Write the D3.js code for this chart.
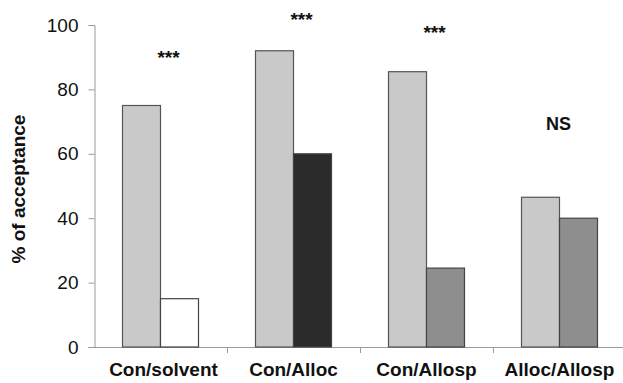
<!DOCTYPE html>
<html><head><meta charset="utf-8">
<script src="https://cdn.jsdelivr.net/npm/d3@7"></script>
<style>body{margin:0;background:#fff}svg{display:block}</style>
</head><body>
<script>
const categories = ["Con/solvent", "Con/Alloc", "Con/Allosp", "Alloc/Allosp"];
const controlValues = [75, 92, 85.5, 46.5];
const testValues = [15, 60, 24.5, 40];
const testColors = ["#ffffff", "#2b2b2b", "#8e8e8e", "#8e8e8e"];
const significance = ["***", "***", "***", "NS"];
const significanceLevel = [88, 99.7, 95.7, 67.4];
const yTicks = [0, 20, 40, 60, 80, 100];

const W = 623, H = 383;
const svg = d3.select("body").append("svg").attr("width", W).attr("height", H);

const x = d3.scaleBand().domain(categories).range([94, 626]);
const y = d3.scaleLinear().domain([0, 100]).range([347, 25]);
const barW = 38;

// x axis
svg.append("line").attr("x1", 88).attr("x2", W).attr("y1", y(0)+0.5).attr("y2", y(0)+0.5)
  .attr("stroke", "#9a9a9a").attr("stroke-width", 1);
categories.slice(1).forEach(c => {
  svg.append("line").attr("x1", x(c)+0.5).attr("x2", x(c)+0.5).attr("y1", y(0)).attr("y2", y(0)+6)
    .attr("stroke", "#9a9a9a");
});
// y axis
const yAxis = d3.axisLeft(y).tickValues(yTicks).tickSize(6).tickPadding(10);
const ga = svg.append("g").attr("transform", "translate(94.5,0)").call(yAxis);
ga.select(".domain").attr("stroke", "#9a9a9a");
ga.selectAll(".tick line").attr("stroke", "#9a9a9a");
ga.selectAll(".tick text").attr("font-family", "Liberation Sans, Arial, sans-serif")
  .attr("font-size", 19).attr("fill", "#111");

svg.append("text").attr("transform", `translate(25,189) rotate(-90)`)
  .attr("text-anchor", "middle").attr("font-family", "Liberation Sans, Arial, sans-serif")
  .attr("font-weight", "bold").attr("font-size", 19).attr("fill", "#111").text("% of acceptance");

// bars
const g = svg.append("g");
categories.forEach((c, i) => {
  const cx = x(c) + x.bandwidth()/2;
  g.append("rect").attr("x", cx - barW).attr("y", y(controlValues[i]))
    .attr("width", barW).attr("height", y(0) - y(controlValues[i]))
    .attr("fill", "#c9c9c9").attr("stroke", "#555").attr("stroke-width", 1.2);
  g.append("rect").attr("x", cx).attr("y", y(testValues[i]))
    .attr("width", barW).attr("height", y(0) - y(testValues[i]))
    .attr("fill", testColors[i]).attr("stroke", "#444").attr("stroke-width", 1.2);
  svg.append("text").attr("x", cx + (significance[i] === "NS" ? -1 : 8)).attr("y", y(significanceLevel[i]))
    .attr("text-anchor", "middle").attr("font-family", "Liberation Sans, Arial, sans-serif")
    .attr("font-weight", "bold").attr("font-size", significance[i] === "NS" ? 18 : 19).attr("fill", "#111")
    .text(significance[i]);
  svg.append("text").attr("x", cx + (i === 0 ? 3 : 0)).attr("y", 376)
    .attr("text-anchor", "middle").attr("font-family", "Liberation Sans, Arial, sans-serif")
    .attr("font-weight", "bold").attr("font-size", 19).attr("fill", "#111").text(c);
});
</script>
</body></html>
